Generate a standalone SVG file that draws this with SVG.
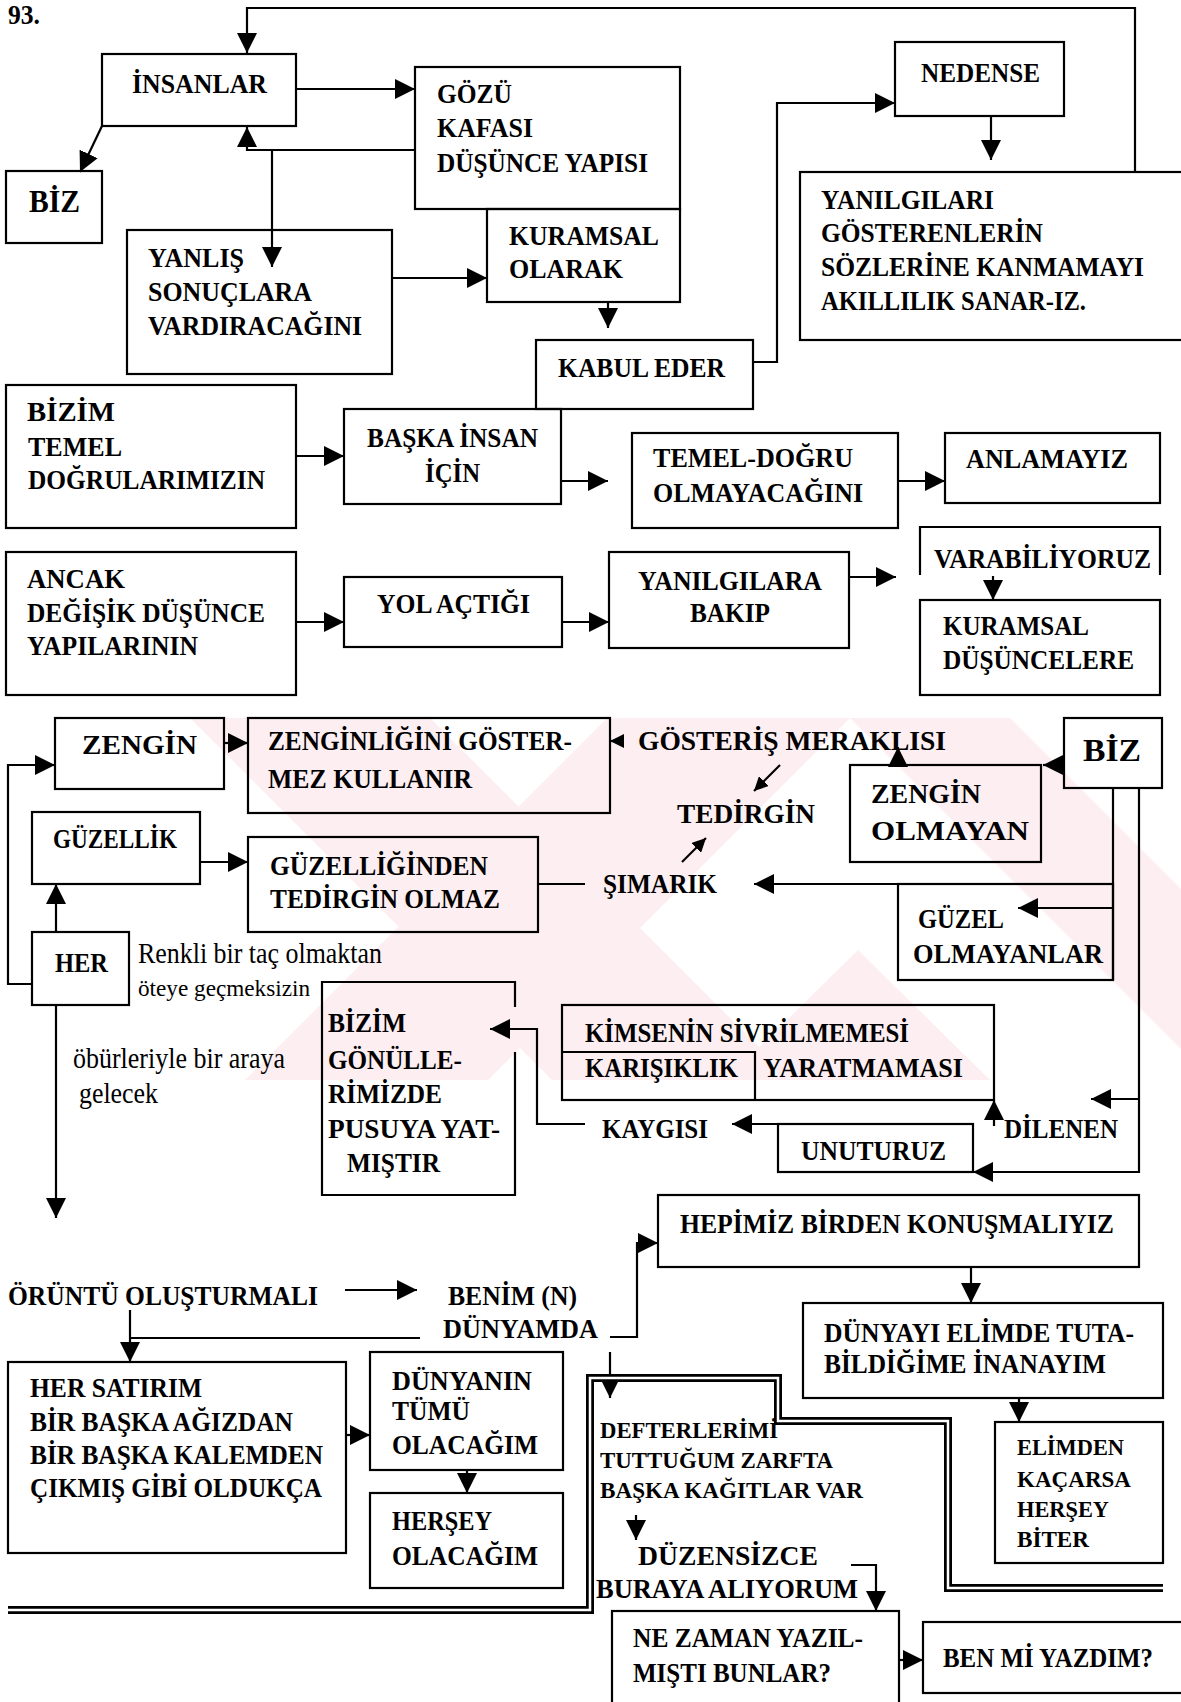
<svg xmlns="http://www.w3.org/2000/svg" width="1181" height="1702" viewBox="0 0 1181 1702">
<style>
  .box{fill:none;stroke:#000;stroke-width:2.2}
  .ln{fill:none;stroke:#000;stroke-width:2.2}
  .dbl{fill:none;stroke:#000;stroke-width:8}
  .dblin{fill:none;stroke:#fff;stroke-width:2.5}
  .wm{fill:#fdeef1}
  text{font-family:"Liberation Serif","Times New Roman",serif;font-weight:bold;font-size:27px;fill:#000}
  .reg{font-weight:normal;font-size:29px}
  .regs{font-weight:normal;font-size:24px}
  .sm{font-size:24px}
  .xs{font-size:23px}
  .big{font-size:31px}
</style>
<defs>
  <marker id="ah" viewBox="0 0 20 20" refX="20" refY="10" markerWidth="20" markerHeight="20" markerUnits="userSpaceOnUse" orient="auto"><path d="M0,0 L20,10 L0,20 z"/></marker>
  <marker id="as" viewBox="0 0 14 14" refX="14" refY="7" markerWidth="14" markerHeight="14" markerUnits="userSpaceOnUse" orient="auto"><path d="M0,0 L14,7 L0,14 z"/></marker>
  <clipPath id="wmclip"><rect x="185" y="718" width="996" height="362"/></clipPath>
</defs>
<rect width="1181" height="1702" fill="#fff"/>

<!-- faint background emblem -->
<g id="watermark" clip-path="url(#wmclip)">
  <polygon class="wm" points="190,718 430,718 792,1080 552,1080"/>
  <polygon class="wm" points="607,718 850,718 488,1080 245,1080"/>
  <polygon class="wm" points="850,718 1010,718 1181,889 1181,1049"/>
  <polygon class="wm" points="858,950 990,1080 726,1080"/>
</g>

<text x="8" y="24" textLength="32" lengthAdjust="spacingAndGlyphs" style="font-size:28px">93.</text>

<g id="connectors">
  <path class="ln" d="M1135,173 V8 H247 V53" marker-end="url(#ah)"/>
  <path class="ln" d="M296,89 H415" marker-end="url(#ah)"/>
  <path class="ln" d="M102,126 L80,172" marker-end="url(#ah)"/>
  <path class="ln" d="M415,150 H247 V127" marker-end="url(#ah)"/>
  <path class="ln" d="M272,151 V267" marker-end="url(#ah)"/>
  <path class="ln" d="M392,278 H487" marker-end="url(#ah)"/>
  <path class="ln" d="M608,302 V328" marker-end="url(#ah)"/>
  <path class="ln" d="M753,362 H777 V103 H895" marker-end="url(#ah)"/>
  <path class="ln" d="M991,116 V160" marker-end="url(#ah)"/>
  <path class="ln" d="M296,456 H344" marker-end="url(#ah)"/>
  <path class="ln" d="M561,481 H608" marker-end="url(#ah)"/>
  <path class="ln" d="M898,481 H945" marker-end="url(#ah)"/>
  <path class="ln" d="M296,622 H344" marker-end="url(#ah)"/>
  <path class="ln" d="M562,622 H609" marker-end="url(#ah)"/>
  <path class="ln" d="M849,577 H896" marker-end="url(#ah)"/>
  <path class="ln" d="M993,576 V600" marker-end="url(#ah)"/>
  <path class="ln" d="M32,984 H8 V765 H55" marker-end="url(#ah)"/>
  <path class="ln" d="M224,743 H248" marker-end="url(#ah)"/>
  <path class="ln" d="M200,862 H248" marker-end="url(#ah)"/>
  <path class="ln" d="M56,932 V884" marker-end="url(#ah)"/>
  <path class="ln" d="M56,1005 V1218" marker-end="url(#ah)"/>
  <path class="ln" d="M624,741 H610" marker-end="url(#as)"/>
  <path class="ln" d="M898,765 V747" marker-end="url(#ah)"/>
  <path class="ln" d="M780,765 L754,791" marker-end="url(#as)"/>
  <path class="ln" d="M682,862 L706,838" marker-end="url(#as)"/>
  <path class="ln" d="M1064,765 H1043" marker-end="url(#ah)"/>
  <path class="ln" d="M1113,788 V980"/>
  <path class="ln" d="M1113,908 H1018" marker-end="url(#ah)"/>
  <path class="ln" d="M1091,884 H754" marker-end="url(#ah)"/>
  <path class="ln" d="M538,884 H585"/>
  <path class="ln" d="M1139,788 V1172 H973" marker-end="url(#ah)"/>
  <path class="ln" d="M1139,1099 H1091" marker-end="url(#ah)"/>
  <path class="ln" d="M994,1126 V1100" marker-end="url(#ah)"/>
  <path class="ln" d="M778,1124 H732" marker-end="url(#ah)"/>
  <path class="ln" d="M585,1124 H537 V1029 H490" marker-end="url(#ah)"/>
  <path class="ln" d="M610,1337 H637 V1243 H658" marker-end="url(#ah)"/>
  <path class="ln" d="M971,1267 V1303" marker-end="url(#ah)"/>
  <path class="ln" d="M1019,1398 V1422" marker-end="url(#ah)"/>
  <path class="ln" d="M345,1290 H417" marker-end="url(#ah)"/>
  <path class="ln" d="M130,1310 V1362" marker-end="url(#ah)"/>
  <path class="ln" d="M130,1338 H420"/>
  <path class="ln" d="M346,1435 H370" marker-end="url(#ah)"/>
  <path class="ln" d="M467,1470 V1493" marker-end="url(#ah)"/>
  <path class="ln" d="M610,1352 V1398" marker-end="url(#ah)"/>
  <path class="ln" d="M636,1515 V1540" marker-end="url(#ah)"/>
  <path class="ln" d="M851,1565 H876 V1611" marker-end="url(#ah)"/>
  <path class="ln" d="M899,1660 H923" marker-end="url(#ah)"/>
  <path class="dbl" d="M8,1610 H590 V1378 H778 V1421 H948 V1588 H1163"/>
  <path class="dblin" d="M8,1610 H590 V1378 H778 V1421 H948 V1588 H1163"/>
</g>

<g id="insanlar"><rect class="box" x="102" y="54" width="194" height="72"/>
  <text x="132" y="93" textLength="135" lengthAdjust="spacingAndGlyphs">İNSANLAR</text></g>
<g id="biz-top"><rect class="box" x="6" y="171" width="96" height="72"/>
  <text class="big" x="29" y="212" textLength="51" lengthAdjust="spacingAndGlyphs">BİZ</text></g>
<g id="yanlis"><rect class="box" x="127" y="230" width="265" height="144"/>
  <text x="148" y="267" textLength="96" lengthAdjust="spacingAndGlyphs">YANLIŞ</text>
  <text x="148" y="301" textLength="164" lengthAdjust="spacingAndGlyphs">SONUÇLARA</text>
  <text x="148" y="335" textLength="214" lengthAdjust="spacingAndGlyphs">VARDIRACAĞINI</text></g>
<g id="gozu"><rect class="box" x="415" y="67" width="265" height="142"/>
  <text x="437" y="103" textLength="75" lengthAdjust="spacingAndGlyphs">GÖZÜ</text>
  <text x="437" y="137" textLength="96" lengthAdjust="spacingAndGlyphs">KAFASI</text>
  <text x="437" y="172" textLength="211" lengthAdjust="spacingAndGlyphs">DÜŞÜNCE YAPISI</text></g>
<g id="kuramsal-olarak"><rect class="box" x="487" y="209" width="193" height="93"/>
  <text x="509" y="245" textLength="150" lengthAdjust="spacingAndGlyphs">KURAMSAL</text>
  <text x="509" y="278" textLength="114" lengthAdjust="spacingAndGlyphs">OLARAK</text></g>
<g id="kabul-eder"><rect class="box" x="536" y="340" width="217" height="69"/>
  <text x="558" y="377" textLength="167" lengthAdjust="spacingAndGlyphs">KABUL EDER</text></g>
<g id="nedense"><rect class="box" x="895" y="42" width="169" height="74"/>
  <text x="921" y="82" textLength="119" lengthAdjust="spacingAndGlyphs">NEDENSE</text></g>
<g id="yanilgilari"><rect class="box" x="800" y="172" width="390" height="168"/>
  <text x="821" y="209" textLength="173" lengthAdjust="spacingAndGlyphs">YANILGILARI</text>
  <text x="821" y="242" textLength="222" lengthAdjust="spacingAndGlyphs">GÖSTERENLERİN</text>
  <text x="821" y="276" textLength="323" lengthAdjust="spacingAndGlyphs">SÖZLERİNE KANMAMAYI</text>
  <text x="821" y="310" textLength="265" lengthAdjust="spacingAndGlyphs">AKILLILIK SANAR-IZ.</text></g>

<g id="bizim-temel"><rect class="box" x="6" y="385" width="290" height="143"/>
  <text x="27" y="421" textLength="88" lengthAdjust="spacingAndGlyphs">BİZİM</text>
  <text x="28" y="456" textLength="94" lengthAdjust="spacingAndGlyphs">TEMEL</text>
  <text x="28" y="489" textLength="237" lengthAdjust="spacingAndGlyphs">DOĞRULARIMIZIN</text></g>
<g id="baska-insan"><rect class="box" x="344" y="409" width="217" height="95"/>
  <text x="367" y="447" textLength="171" lengthAdjust="spacingAndGlyphs">BAŞKA İNSAN</text>
  <text x="425" y="482" textLength="55" lengthAdjust="spacingAndGlyphs">İÇİN</text></g>
<g id="temel-dogru"><rect class="box" x="632" y="433" width="266" height="95"/>
  <text x="653" y="467" textLength="200" lengthAdjust="spacingAndGlyphs">TEMEL-DOĞRU</text>
  <text x="653" y="502" textLength="210" lengthAdjust="spacingAndGlyphs">OLMAYACAĞINI</text></g>
<g id="anlamayiz"><rect class="box" x="945" y="433" width="215" height="70"/>
  <text x="966" y="468" textLength="162" lengthAdjust="spacingAndGlyphs">ANLAMAYIZ</text></g>
<g id="ancak"><rect class="box" x="6" y="552" width="290" height="143"/>
  <text x="27" y="588" textLength="98" lengthAdjust="spacingAndGlyphs">ANCAK</text>
  <text x="27" y="622" textLength="238" lengthAdjust="spacingAndGlyphs">DEĞİŞİK DÜŞÜNCE</text>
  <text x="27" y="655" textLength="171" lengthAdjust="spacingAndGlyphs">YAPILARININ</text></g>
<g id="yol-actigi"><rect class="box" x="344" y="577" width="218" height="70"/>
  <text x="377" y="613" textLength="153" lengthAdjust="spacingAndGlyphs">YOL AÇTIĞI</text></g>
<g id="yanilgilara"><rect class="box" x="609" y="552" width="240" height="96"/>
  <text x="638" y="590" textLength="184" lengthAdjust="spacingAndGlyphs">YANILGILARA</text>
  <text x="690" y="622" textLength="80" lengthAdjust="spacingAndGlyphs">BAKIP</text></g>
<g id="varabiliyoruz"><path class="box" d="M920,575 V527 H1160 V575"/>
  <text x="934" y="568" textLength="217" lengthAdjust="spacingAndGlyphs">VARABİLİYORUZ</text></g>
<g id="kuramsal-dusuncelere"><rect class="box" x="920" y="600" width="240" height="95"/>
  <text x="943" y="635" textLength="146" lengthAdjust="spacingAndGlyphs">KURAMSAL</text>
  <text x="943" y="669" textLength="191" lengthAdjust="spacingAndGlyphs">DÜŞÜNCELERE</text></g>

<g id="zengin"><rect class="box" x="55" y="718" width="169" height="71"/>
  <text x="82" y="754" textLength="115" lengthAdjust="spacingAndGlyphs">ZENGİN</text></g>
<g id="zenginligini"><rect class="box" x="248" y="718" width="362" height="95"/>
  <text x="268" y="750" textLength="304" lengthAdjust="spacingAndGlyphs">ZENGİNLİĞİNİ GÖSTER-</text>
  <text x="268" y="788" textLength="204" lengthAdjust="spacingAndGlyphs">MEZ KULLANIR</text></g>
<g id="gosteris"><text x="638" y="750" textLength="308" lengthAdjust="spacingAndGlyphs">GÖSTERİŞ MERAKLISI</text></g>
<g id="tedirgin"><text x="677" y="823" textLength="138" lengthAdjust="spacingAndGlyphs">TEDİRGİN</text></g>
<g id="zengin-olmayan"><rect class="box" x="850" y="765" width="191" height="97"/>
  <text x="871" y="803" textLength="110" lengthAdjust="spacingAndGlyphs">ZENGİN</text>
  <text x="871" y="840" textLength="158" lengthAdjust="spacingAndGlyphs">OLMAYAN</text></g>
<g id="biz-right"><rect class="box" x="1064" y="718" width="98" height="70"/>
  <text class="big" x="1083" y="761" textLength="58" lengthAdjust="spacingAndGlyphs">BİZ</text></g>
<g id="guzellik"><rect class="box" x="32" y="812" width="168" height="72"/>
  <text x="53" y="848" textLength="124" lengthAdjust="spacingAndGlyphs">GÜZELLİK</text></g>
<g id="guzelliginden"><rect class="box" x="248" y="837" width="290" height="95"/>
  <text x="270" y="875" textLength="218" lengthAdjust="spacingAndGlyphs">GÜZELLİĞİNDEN</text>
  <text x="270" y="908" textLength="230" lengthAdjust="spacingAndGlyphs">TEDİRGİN OLMAZ</text></g>
<g id="simarik"><text x="603" y="893" textLength="114" lengthAdjust="spacingAndGlyphs">ŞIMARIK</text></g>
<g id="guzel-olmayanlar"><rect class="box" x="898" y="884" width="215" height="96"/>
  <text x="918" y="928" textLength="86" lengthAdjust="spacingAndGlyphs">GÜZEL</text>
  <text x="913" y="963" textLength="190" lengthAdjust="spacingAndGlyphs">OLMAYANLAR</text></g>
<g id="her"><rect class="box" x="32" y="932" width="97" height="73"/>
  <text x="55" y="972" textLength="53" lengthAdjust="spacingAndGlyphs">HER</text></g>
<g id="her-notes">
  <text class="reg" x="138" y="963" textLength="244" lengthAdjust="spacingAndGlyphs">Renkli bir taç olmaktan</text>
  <text class="regs" x="138" y="996" textLength="172" lengthAdjust="spacingAndGlyphs">öteye geçmeksizin</text>
  <text class="reg" x="73" y="1068" textLength="212" lengthAdjust="spacingAndGlyphs">öbürleriyle bir araya</text>
  <text class="reg" x="79" y="1103" textLength="79" lengthAdjust="spacingAndGlyphs">gelecek</text></g>
<g id="bizim-gonul"><path class="box" d="M515,1007 V982 H322 V1195 H515 V1052"/>
  <text x="328" y="1032" textLength="78" lengthAdjust="spacingAndGlyphs">BİZİM</text>
  <text x="328" y="1069" textLength="134" lengthAdjust="spacingAndGlyphs">GÖNÜLLE-</text>
  <text x="328" y="1103" textLength="114" lengthAdjust="spacingAndGlyphs">RİMİZDE</text>
  <text x="328" y="1138" textLength="172" lengthAdjust="spacingAndGlyphs">PUSUYA YAT-</text>
  <text x="347" y="1172" textLength="93" lengthAdjust="spacingAndGlyphs">MIŞTIR</text></g>
<g id="kimsenin"><rect class="box" x="562" y="1005" width="432" height="95"/>
  <path class="box" d="M562,1052 H755 V1100"/>
  <text x="585" y="1042" textLength="324" lengthAdjust="spacingAndGlyphs">KİMSENİN SİVRİLMEMESİ</text>
  <text x="585" y="1077" textLength="153" lengthAdjust="spacingAndGlyphs">KARIŞIKLIK</text>
  <text x="763" y="1077" textLength="200" lengthAdjust="spacingAndGlyphs">YARATMAMASI</text></g>
<g id="kaygisi"><text x="602" y="1138" textLength="106" lengthAdjust="spacingAndGlyphs">KAYGISI</text></g>
<g id="unuturuz"><rect class="box" x="778" y="1124" width="195" height="48"/>
  <text x="801" y="1160" textLength="145" lengthAdjust="spacingAndGlyphs">UNUTURUZ</text></g>
<g id="dilenen"><text x="1004" y="1138" textLength="114" lengthAdjust="spacingAndGlyphs">DİLENEN</text></g>

<g id="hepimiz"><rect class="box" x="658" y="1195" width="481" height="72"/>
  <text x="680" y="1233" textLength="434" lengthAdjust="spacingAndGlyphs">HEPİMİZ BİRDEN KONUŞMALIYIZ</text></g>
<g id="oruntu"><text x="8" y="1305" textLength="310" lengthAdjust="spacingAndGlyphs">ÖRÜNTÜ OLUŞTURMALI</text></g>
<g id="benim-dunyamda">
  <text x="448" y="1305" textLength="129" lengthAdjust="spacingAndGlyphs">BENİM (N)</text>
  <text x="443" y="1338" textLength="155" lengthAdjust="spacingAndGlyphs">DÜNYAMDA</text></g>
<g id="her-satirim"><rect class="box" x="8" y="1362" width="338" height="191"/>
  <text x="30" y="1397" textLength="172" lengthAdjust="spacingAndGlyphs">HER SATIRIM</text>
  <text x="30" y="1431" textLength="263" lengthAdjust="spacingAndGlyphs">BİR BAŞKA AĞIZDAN</text>
  <text x="30" y="1464" textLength="293" lengthAdjust="spacingAndGlyphs">BİR BAŞKA KALEMDEN</text>
  <text x="30" y="1497" textLength="292" lengthAdjust="spacingAndGlyphs">ÇIKMIŞ GİBİ OLDUKÇA</text></g>
<g id="dunyanin"><rect class="box" x="370" y="1352" width="193" height="118"/>
  <text x="392" y="1390" textLength="140" lengthAdjust="spacingAndGlyphs">DÜNYANIN</text>
  <text x="392" y="1420" textLength="78" lengthAdjust="spacingAndGlyphs">TÜMÜ</text>
  <text x="392" y="1454" textLength="146" lengthAdjust="spacingAndGlyphs">OLACAĞIM</text></g>
<g id="hersey-olacagim"><rect class="box" x="370" y="1493" width="193" height="95"/>
  <text x="392" y="1530" textLength="100" lengthAdjust="spacingAndGlyphs">HERŞEY</text>
  <text x="392" y="1565" textLength="146" lengthAdjust="spacingAndGlyphs">OLACAĞIM</text></g>
<g id="defterlerimi">
  <text class="sm" x="600" y="1438" textLength="178" lengthAdjust="spacingAndGlyphs">DEFTERLERİMİ</text>
  <text class="sm" x="600" y="1468" textLength="233" lengthAdjust="spacingAndGlyphs">TUTTUĞUM ZARFTA</text>
  <text class="sm" x="600" y="1498" textLength="263" lengthAdjust="spacingAndGlyphs">BAŞKA KAĞITLAR VAR</text></g>
<g id="duzensizce">
  <text x="638" y="1565" textLength="180" lengthAdjust="spacingAndGlyphs">DÜZENSİZCE</text>
  <text x="596" y="1598" textLength="262" lengthAdjust="spacingAndGlyphs">BURAYA ALIYORUM</text></g>
<g id="ne-zaman"><rect class="box" x="612" y="1611" width="287" height="100"/>
  <text x="633" y="1647" textLength="230" lengthAdjust="spacingAndGlyphs">NE ZAMAN YAZIL-</text>
  <text x="633" y="1682" textLength="198" lengthAdjust="spacingAndGlyphs">MIŞTI BUNLAR?</text></g>
<g id="ben-mi"><rect class="box" x="923" y="1622" width="270" height="71"/>
  <text x="943" y="1667" textLength="210" lengthAdjust="spacingAndGlyphs">BEN Mİ YAZDIM?</text></g>
<g id="dunyayi"><rect class="box" x="803" y="1303" width="360" height="95"/>
  <text x="824" y="1342" textLength="310" lengthAdjust="spacingAndGlyphs">DÜNYAYI ELİMDE TUTA-</text>
  <text x="824" y="1373" textLength="282" lengthAdjust="spacingAndGlyphs">BİLDİĞİME İNANAYIM</text></g>
<g id="elimden"><rect class="box" x="995" y="1422" width="168" height="141"/>
  <text class="xs" x="1017" y="1455" textLength="107" lengthAdjust="spacingAndGlyphs">ELİMDEN</text>
  <text class="xs" x="1017" y="1487" textLength="114" lengthAdjust="spacingAndGlyphs">KAÇARSA</text>
  <text class="xs" x="1017" y="1517" textLength="92" lengthAdjust="spacingAndGlyphs">HERŞEY</text>
  <text class="xs" x="1017" y="1547" textLength="72" lengthAdjust="spacingAndGlyphs">BİTER</text></g>
</svg>
